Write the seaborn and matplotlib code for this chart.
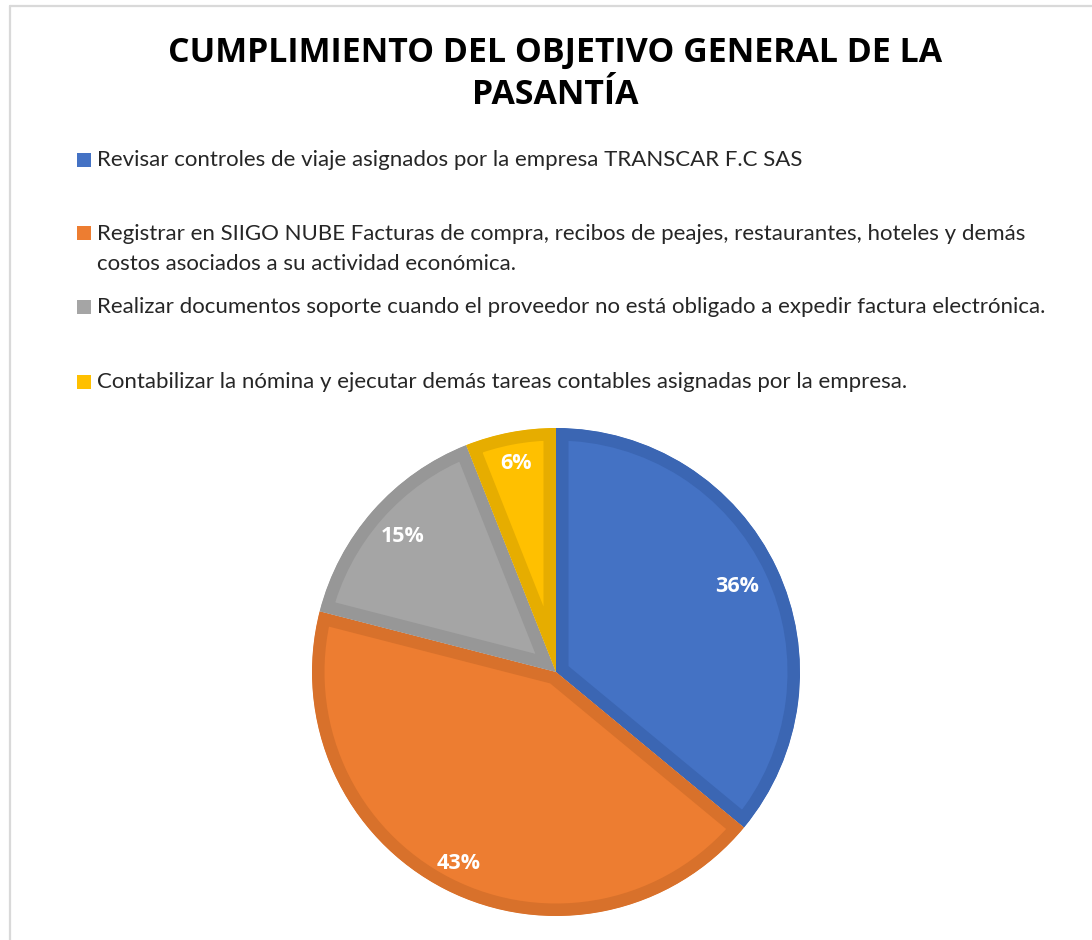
import matplotlib
matplotlib.use('Agg')
import matplotlib.pyplot as plt
import seaborn as sns
from matplotlib.patches import Rectangle
from matplotlib.lines import Line2D
sns.set_style('white')

# data
actividades = [
    'Revisar controles de viaje asignados por la empresa TRANSCAR F.C SAS',
    'Registrar en SIIGO NUBE Facturas de compra, recibos de peajes, '
    'restaurantes, hoteles y demás\ncostos asociados a su actividad económica.',
    'Realizar documentos soporte cuando el proveedor no está obligado a '
    'expedir factura electrónica.',
    'Contabilizar la nómina y ejecutar demás tareas contables asignadas '
    'por la empresa.',
]
porcentajes = [36, 43, 15, 6]
colores = sns.color_palette(['#4472C4', '#ED7D31', '#A5A5A5', '#FFC000'])
bordes = ['#3B66B3', '#D8712B', '#979797', '#E6AD00']
titulo = 'CUMPLIMIENTO DEL OBJETIVO GENERAL DE LA\nPASANTÍA'

W, H = 1092, 940
fig = plt.figure(figsize=(W / 100, H / 100), dpi=100)


def fx(px):
    return px / W


def fy(py):
    return 1 - py / H


# chart area border (left and top only visible)
fig.add_artist(Line2D([fx(10), fx(10)], [fy(6), 0], color='#D9D9D9', lw=1.6))
fig.add_artist(Line2D([fx(10), 1], [fy(6), fy(6)], color='#D9D9D9', lw=1.6))

fig.text(fx(555), fy(74), titulo, ha='center', va='center',
         fontsize=24.4, fontweight='bold', family='Open Sans',
         color='#000000', linespacing=1.32)

# legend, drawn by hand so the spacing follows the reference
legend_y = [160, 233, 307, 382]
for act, col, y in zip(actividades, colores, legend_y):
    fig.add_artist(Rectangle((fx(77), fy(y + 7)), fx(14), 14 / H,
                             facecolor=col, edgecolor='none'))
    if '\n' in act:
        fig.text(fx(97), fy(y - 9), act, ha='left', va='top',
                 fontsize=16, family='Lato', color='#262626',
                 linespacing=1.6)
    else:
        fig.text(fx(97), fy(y), act, ha='left', va='center',
                 fontsize=16, family='Lato', color='#262626')

# pie
cx, cy, r = 556, 672, 244
half = 256
ax = fig.add_axes([fx(cx - half), fy(cy + half), 2 * half / W, 2 * half / H])
lim = half / r
wedges, textos, autotextos = ax.pie(
    porcentajes, colors=colores, startangle=90, counterclock=False,
    autopct='%d%%', pctdistance=1.0, radius=1,
    wedgeprops=dict(linewidth=18, joinstyle='miter'),
    textprops=dict(color='white', fontsize=15.5, fontweight='bold',
                   family='Open Sans'))
# keep the thick edge inside each wedge
for w, b in zip(wedges, bordes):
    w.set_edgecolor(b)
    w.set_clip_path(w)
    w.set_clip_on(True)
# label distance from the centre, as placed in the reference ("best fit")
dist_etiquetas = [0.82, 0.88, 0.84, 0.87]
for t, d in zip(autotextos, dist_etiquetas):
    x, y = t.get_position()
    t.set_position((x * d, y * d))
ax.set_xlim(-lim, lim)
ax.set_ylim(-lim, lim)
ax.set_aspect('equal')
ax.axis('off')

fig.savefig('out.png', dpi=100, facecolor='white')
